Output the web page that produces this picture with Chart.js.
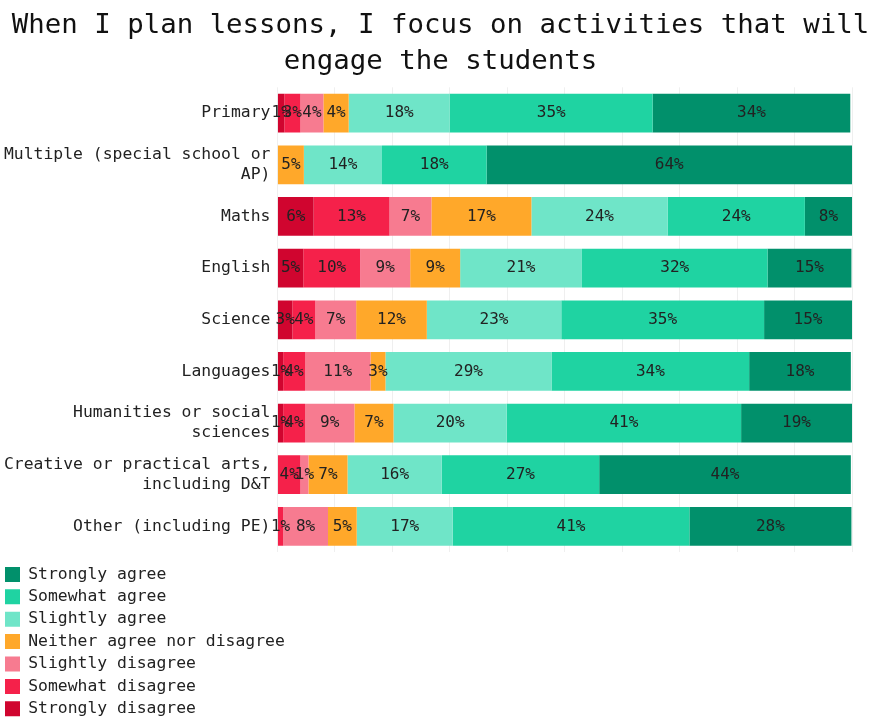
<!DOCTYPE html>
<html lang="en">
<head>
  <meta charset="UTF-8" />
  <title>Lesson planning</title>
  <script src="https://cdn.jsdelivr.net/npm/chart.js"></script>
  <style>
    body { margin: 0; background: #fff; }
    .wrap { width: 881px; height: 719px; }
  </style>
</head>
<body>
  <div class="wrap"><canvas id="chart"></canvas></div>

  <script>
    const categories = [
      'Primary',
      ['Multiple (special school or', 'AP)'],
      'Maths',
      'English',
      'Science',
      'Languages',
      ['Humanities or social', 'sciences'],
      ['Creative or practical arts,', 'including D&T'],
      'Other (including PE)'
    ];

    // % of respondents
    const stronglyDisagree = [1.2, 0, 6.3, 4.5, 2.6, 1.0, 1.0, 0, 0];
    const somewhatDisagree = [2.8, 0, 13.2, 9.9, 4.0, 3.8, 3.8, 4.0, 1.0];
    const slightlyDisagree = [4.0, 0, 7.3, 8.7, 7.1, 11.4, 8.6, 1.4, 7.8];
    const neither = [4.4, 4.6, 17.4, 8.7, 12.3, 2.6, 6.8, 6.8, 5.0];
    const slightlyAgree = [17.6, 13.6, 23.7, 21.2, 23.4, 28.9, 19.7, 16.4, 16.7];
    const somewhatAgree = [35.3, 18.2, 23.9, 32.3, 35.3, 34.4, 40.8, 27.4, 41.2];
    const stronglyAgree = [34.4, 63.6, 8.2, 14.6, 15.3, 17.7, 19.3, 43.8, 28.2];

    const mono = "'DejaVu Sans Mono', 'Liberation Mono', monospace";
    const rightGap = 29;
    const leftGap = -3;

    // simple inline value labels, centred in each segment
    const segmentLabels = {
      id: 'segmentLabels',
      afterDatasetsDraw(chart) {
        const ctx = chart.ctx;
        ctx.save();
        ctx.font = '16px ' + mono;
        ctx.fillStyle = '#222';
        ctx.textAlign = 'center';
        ctx.textBaseline = 'middle';
        chart.data.datasets.forEach((ds, i) => {
          chart.getDatasetMeta(i).data.forEach((bar, j) => {
            const v = ds.data[j];
            if (!v) return;
            const p = bar.getProps(['x', 'base', 'y'], true);
            ctx.fillText(Math.round(v) + '%', (p.x + p.base) / 2, p.y);
          });
        });
        ctx.restore();
      }
    };

    // title centred on the whole canvas, legend a little lower
    const layoutTweaks = {
      id: 'layoutTweaks',
      afterLayout(chart) {
        if (chart.titleBlock) {
          chart.titleBlock.left -= leftGap;
          chart.titleBlock.right += rightGap;
        }
        if (chart.legend) {
          chart.legend.top += 8;
          chart.legend.bottom += 8;
          chart.legend.left += 2;
        }
      }
    };

    const ctx = document.getElementById('chart').getContext('2d');

    new Chart(ctx, {
      type: 'bar',
      data: {
        labels: categories,
        datasets: [
          { label: 'Strongly disagree', data: stronglyDisagree, backgroundColor: '#d0052f' },
          { label: 'Somewhat disagree', data: somewhatDisagree, backgroundColor: '#f5214a' },
          { label: 'Slightly disagree', data: slightlyDisagree, backgroundColor: '#f77b90' },
          { label: 'Neither agree nor disagree', data: neither, backgroundColor: '#ffa82a' },
          { label: 'Slightly agree', data: slightlyAgree, backgroundColor: '#6fe5c8' },
          { label: 'Somewhat agree', data: somewhatAgree, backgroundColor: '#1fd3a2' },
          { label: 'Strongly agree', data: stronglyAgree, backgroundColor: '#01906b' }
        ]
      },
      options: {
        indexAxis: 'y',
        responsive: true,
        maintainAspectRatio: false,
        animation: false,
        categoryPercentage: 1,
        barPercentage: 0.75,
        layout: { padding: { left: leftGap, right: rightGap } },
        scales: {
          x: {
            stacked: true,
            min: 0,
            max: 100,
            ticks: { display: false, stepSize: 10 },
            grid: { color: '#efefef', drawTicks: false },
            border: { display: false }
          },
          y: {
            stacked: true,
            grid: { display: false, drawTicks: false },
            border: { display: false },
            ticks: { color: '#222', padding: 7, font: { family: mono, size: 16.4 } }
          }
        },
        plugins: {
          title: {
            display: true,
            text: ['When I plan lessons, I focus on activities that will', 'engage the students'],
            color: '#111',
            font: { family: mono, size: 27.4, weight: 'normal', lineHeight: 1.32 },
            padding: { top: 8, bottom: 7 }
          },
          legend: {
            position: 'bottom',
            align: 'start',
            reverse: true,
            labels: {
              color: '#222',
              boxWidth: 15,
              boxHeight: 15,
              padding: 6,
              font: { family: mono, size: 16.4 },
              // pad each entry so the legend stacks one item per row
              generateLabels(chart) {
                return Chart.defaults.plugins.legend.labels.generateLabels(chart)
                  .map(item => Object.assign(item, { text: item.text.padEnd(52, ' ') }));
              }
            }
          },
          tooltip: { enabled: false }
        }
      },
      plugins: [segmentLabels, layoutTweaks]
    });
  </script>
</body>
</html>
